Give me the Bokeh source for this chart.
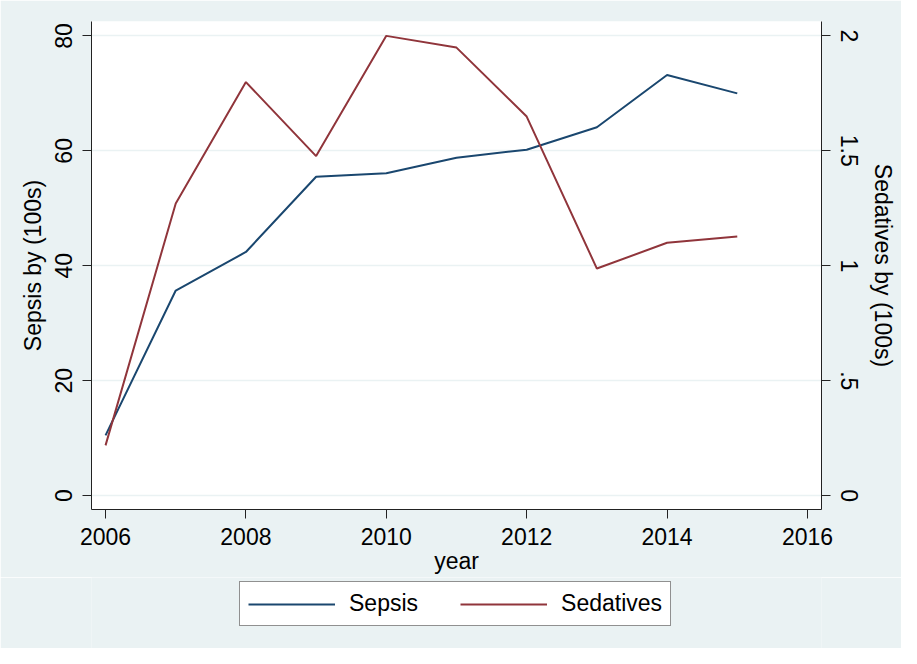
from bokeh.plotting import figure
from bokeh.models import Range1d, LinearAxis, FixedTicker, Legend, LegendItem
from bokeh.layouts import column
from bokeh.embed import file_html
from bokeh.resources import INLINE

years = [2006, 2007, 2008, 2009, 2010, 2011, 2012, 2013, 2014, 2015]
sepsis = [10.5, 35.7, 42.4, 55.5, 56.1, 58.8, 60.2, 64.1, 73.2, 70.0]
sedatives = [0.219, 1.271, 1.799, 1.477, 2.0, 1.949, 1.649, 0.988, 1.10, 1.127]

x_ticks = [2006, 2008, 2010, 2012, 2014, 2016]
left_ticks = [0, 20, 40, 60, 80]
right_ticks = [0, 0.5, 1, 1.5, 2]
right_labels = {0: "0", 0.5: ".5", 1: "1", 1.5: "1.5", 2: "2"}
series_names = ["Sepsis", "Sedatives"]

BG = "#EAF2F3"
NAVY = "#1a476f"
MAROON = "#90353b"
FONT = "Liberation Sans"
FS = "23px"

p = figure(width=901, height=577, output_backend="svg", toolbar_location=None,
           x_range=Range1d(2005.8, 2016.2), y_range=Range1d(-2.4, 82.5),
           min_border_left=91, min_border_right=80, min_border_top=21, min_border_bottom=68)
p.extra_y_ranges = {"sed": Range1d(-0.06, 2.0625)}

p.background_fill_color = "white"
p.border_fill_color = BG
p.outline_line_color = None

p.line(years, sepsis, line_color=NAVY, line_width=2)
p.line(years, sedatives, line_color=MAROON, line_width=2, y_range_name="sed")

def style_axis(ax):
    ax.axis_line_color = "#222222"
    ax.axis_line_width = 1
    ax.major_tick_line_color = "#222222"
    ax.major_tick_out = 9
    ax.major_tick_in = 0
    ax.minor_tick_line_color = None
    ax.major_label_text_font = FONT
    ax.major_label_text_font_size = FS
    ax.major_label_text_color = "black"
    ax.axis_label_text_font = FONT
    ax.axis_label_text_font_size = FS
    ax.axis_label_text_font_style = "normal"
    ax.axis_label_text_color = "black"

xa = p.xaxis[0]
style_axis(xa)
xa.ticker = FixedTicker(ticks=x_ticks)
xa.axis_label = "year"
xa.major_label_standoff = 9
xa.axis_label_standoff = 0

ya = p.yaxis[0]
style_axis(ya)
ya.ticker = FixedTicker(ticks=left_ticks)
ya.axis_label = "Sepsis by (100s)"
ya.major_label_orientation = "vertical"
ya.major_label_standoff = 10
ya.axis_label_standoff = 7

ra = LinearAxis(y_range_name="sed", ticker=FixedTicker(ticks=right_ticks),
                major_label_overrides=right_labels, axis_label="Sedatives by (100s)")
style_axis(ra)
ra.major_label_orientation = "vertical"
ra.major_label_standoff = 10
ra.axis_label_standoff = 9
p.add_layout(ra, "right")

p.xgrid.grid_line_color = None
p.ygrid.ticker = FixedTicker(ticks=left_ticks)
p.ygrid.grid_line_color = BG
p.ygrid.grid_line_width = 1.5

# legend strip below the chart
q = figure(width=901, height=71, output_backend="svg", toolbar_location=None,
           x_range=Range1d(0, 1), y_range=Range1d(0, 1),
           x_axis_type=None, y_axis_type=None,
           min_border_left=0, min_border_right=0, min_border_top=0, min_border_bottom=0)
q.background_fill_color = BG
q.border_fill_color = BG
q.outline_line_color = None
q.grid.visible = False
l1 = q.line(years, sepsis, line_color=NAVY, line_width=2)
l2 = q.line(years, sedatives, line_color=MAROON, line_width=2)

legend = Legend(items=[LegendItem(label=series_names[0], renderers=[l1]),
                       LegendItem(label=series_names[1], renderers=[l2])],
                orientation="horizontal", location=(148, 22))
legend.label_text_font = FONT
legend.label_text_font_size = FS
legend.label_text_color = "black"
legend.glyph_width = 87
legend.glyph_height = 20
legend.label_standoff = 14
legend.spacing = 42
legend.padding = 8
legend.margin = 0
legend.border_line_color = "#222222"
legend.border_line_width = 1
legend.background_fill_color = "white"
legend.background_fill_alpha = 1
q.add_layout(legend, "center")

layout = column(p, q, spacing=0)
open("out.html", "w").write(file_html(layout, INLINE))
